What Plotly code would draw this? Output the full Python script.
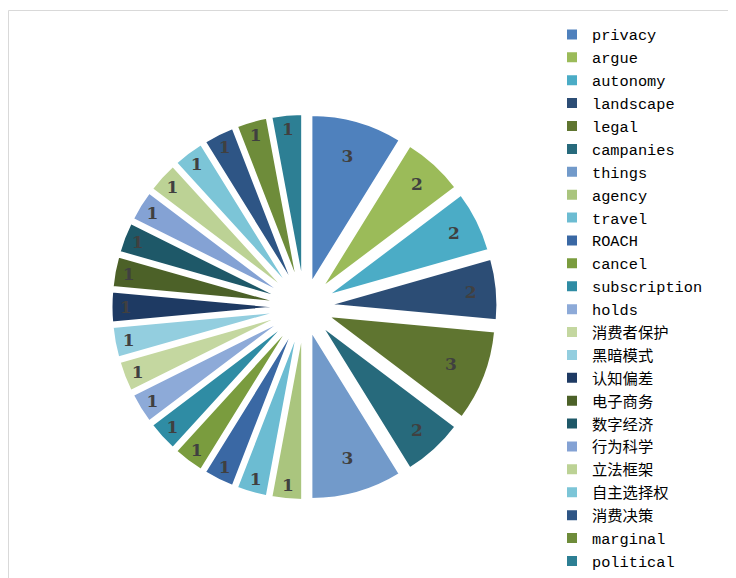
import plotly.graph_objects as go

labels = ["privacy", "argue", "autonomy", "landscape", "legal", "campanies", "things",
          "agency", "travel", "ROACH", "cancel", "subscription", "holds",
          "消费者保护", "黑暗模式", "认知偏差", "电子商务", "数字经济", "行为科学",
          "立法框架", "自主选择权", "消费决策", "marginal", "political"]
values = [3, 2, 2, 2, 3, 2, 3,
          1, 1, 1, 1, 1, 1,
          1, 1, 1, 1, 1, 1,
          1, 1, 1, 1, 1]
colors = ["#4F81BD", "#9BBB59", "#4BACC6", "#2C4D75", "#5F7530", "#276A7C", "#729ACA",
          "#AAC57E", "#6CBCD2", "#3A68A4", "#7A9C3E", "#2F8CA4", "#8DAAD8",
          "#C4D7A0", "#93CEDF", "#1E3A63", "#4C6128", "#1E5868", "#84A2D4",
          "#BCD295", "#7CC5D7", "#2E5585", "#6E8C3A", "#2D7F94"]

# the page body has an 8px margin, so the figure is 8px smaller and shifted
W, H = 728, 570
cx, cy, D = 296.5, 299, 386

fig = go.Figure(go.Pie(
    labels=labels,
    values=values,
    sort=False,
    direction="clockwise",
    rotation=0,
    pull=0.15,
    marker=dict(colors=colors, line=dict(color="white", width=2)),
    textinfo="value",
    textposition="inside",
    insidetextorientation="horizontal",
    insidetextfont=dict(family="DejaVu Serif", size=17, color="#404040", weight="bold"),
    domain=dict(x=[(cx - D / 2) / W, (cx + D / 2) / W],
                y=[(H - cy - D / 2) / H, (H - cy + D / 2) / H]),
    hoverinfo="label+value",
))

fig.update_layout(
    width=W, height=H,
    margin=dict(l=0, r=0, t=0, b=0),
    paper_bgcolor="white",
    plot_bgcolor="white",
    showlegend=True,
    legend=dict(
        x=544 / W, xanchor="left",
        y=1 - 28 / H, yanchor="top",
        font=dict(family="Liberation Mono, Noto Sans CJK SC", size=15.3, color="#000000"),
        bgcolor="rgba(0,0,0,0)",
        traceorder="normal",
        itemwidth=30,
    ),
    shapes=[dict(type="rect", xref="paper", yref="paper",
                 x0=0.5 / W, x1=1.02, y0=-0.02, y1=1 - 2.5 / H,
                 line=dict(color="#D9D9D9", width=1), fillcolor="rgba(0,0,0,0)", layer="below")],
)

fig.write_html("out.html")
